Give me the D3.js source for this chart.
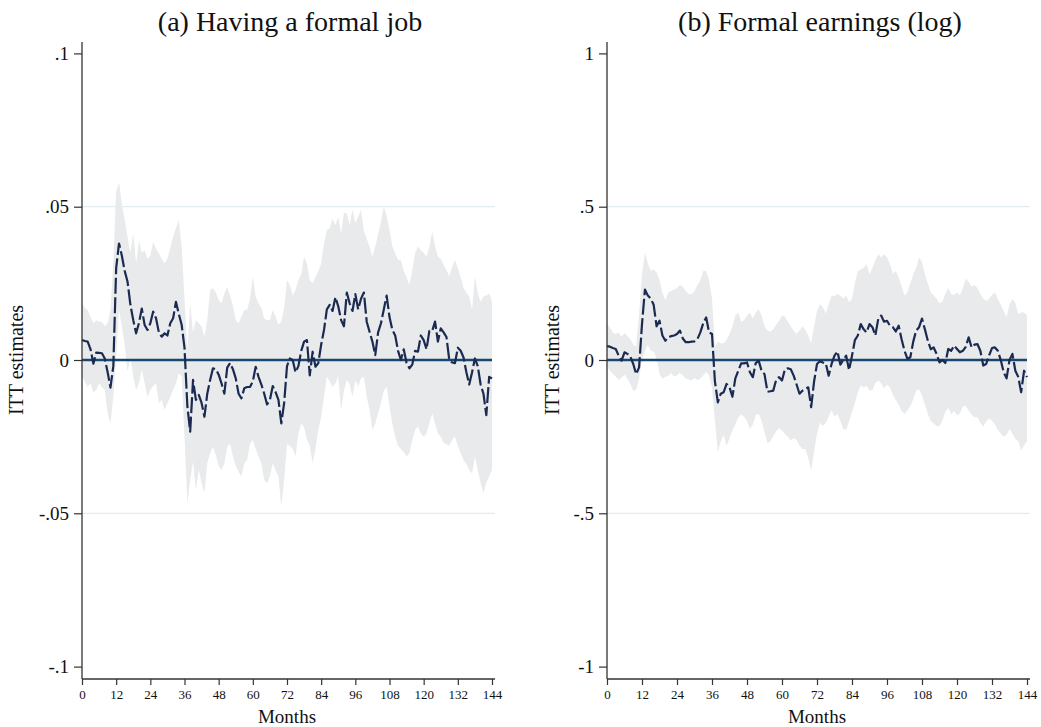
<!DOCTYPE html>
<html>
<head>
<meta charset="utf-8">
<script src="https://cdn.jsdelivr.net/npm/d3@7"></script>
<style>
  html, body { margin: 0; padding: 0; background: #fff; }
  svg { display: block; font-family: "Liberation Serif", "Times New Roman", serif; }
</style>
</head>
<body>
<svg id="chart" width="1041" height="727"></svg>
<script>
// Meses 0..144 (eje x)
const months = d3.range(0, 145);
const xTicks = [0, 12, 24, 36, 48, 60, 72, 84, 96, 108, 120, 132, 144];

// (a) Having a formal job
const jobTicks = [-0.1, -0.05, 0, 0.05, 0.1];
const jobTickLabels = ['-.1', '-.05', '0', '.05', '.1'];
const jobEst = [
  0.0065, 0.0062, 0.006, 0.0035, -0.0012, 0.0024, 0.0023, 0.0022, 0.0005, -0.004,
  -0.009, -0.002, 0.03, 0.038, 0.034, 0.029, 0.0255, 0.018, 0.013, 0.0087,
  0.012, 0.0168, 0.0114, 0.0098, 0.012, 0.0158, 0.0136, 0.009, 0.0076, 0.0087,
  0.008, 0.012, 0.0136, 0.019, 0.015, 0.0115, 0.004, -0.015, -0.0234, -0.0065,
  -0.013, -0.0114, -0.014, -0.0185, -0.011, -0.0065, -0.0027, -0.003, -0.0048, -0.0076,
  -0.011, -0.0025, -0.001, -0.003, -0.006, -0.011, -0.0125, -0.0092, -0.0088, -0.0088,
  -0.007, -0.0022, -0.0055, -0.008, -0.011, -0.0145, -0.013, -0.0085, -0.0105, -0.013,
  -0.0207, -0.014, -0.002, 0.0005, 0.0, -0.004, -0.002, 0.003, 0.006, 0.0065,
  -0.005, 0.0027, -0.0022, -0.001, 0.005, 0.0098, 0.0165, 0.018, 0.016, 0.0205,
  0.0175, 0.013, 0.011, 0.022, 0.0185, 0.016, 0.0215, 0.0165, 0.02, 0.022,
  0.0125, 0.0092, 0.006, 0.0016, 0.009, 0.012, 0.0165, 0.021, 0.014, 0.0098,
  0.008, 0.003, 0.0, 0.0035, -0.001, -0.0027, -0.0015, 0.003, 0.0027, 0.008,
  0.0065, 0.0035, 0.0095, 0.0095, 0.0125, 0.006, 0.0103, 0.009, 0.0075, 0.0,
  -0.0008, -0.001, 0.004, 0.003, 0.0008, -0.004, -0.008, -0.004, 0.0005, -0.002,
  -0.008, -0.011, -0.018, -0.0055, -0.006
];
const jobHi = [
  0.0185, 0.017, 0.0163, 0.014, 0.012, 0.013, 0.0125, 0.0125, 0.011, 0.012,
  0.0163, 0.032, 0.055, 0.058, 0.051, 0.0457, 0.04, 0.035, 0.0413, 0.0315,
  0.039, 0.035, 0.0359, 0.033, 0.034, 0.0386, 0.0364, 0.0348, 0.033, 0.0315,
  0.033, 0.0365, 0.0402, 0.043, 0.0457, 0.037, 0.02, 0.0033, 0.0185, 0.009,
  0.013, 0.012, 0.0109, 0.0076, 0.013, 0.0228, 0.0235, 0.022, 0.0195, 0.0185,
  0.0217, 0.0239, 0.021, 0.0175, 0.013, 0.012, 0.0141, 0.0163, 0.0163, 0.02,
  0.0272, 0.0207, 0.0185, 0.017, 0.0135, 0.013, 0.013, 0.0163, 0.0141, 0.0115,
  0.0125, 0.017, 0.026, 0.0245, 0.021, 0.0228, 0.026, 0.028, 0.0337, 0.0315,
  0.026, 0.025, 0.027, 0.029, 0.0315, 0.038, 0.0424, 0.043, 0.046, 0.044,
  0.0467, 0.0413, 0.048, 0.0478, 0.044, 0.049, 0.0446, 0.0467, 0.049, 0.042,
  0.0395, 0.037, 0.0337, 0.037, 0.041, 0.045, 0.05, 0.047, 0.0424, 0.037,
  0.0348, 0.0326, 0.0326, 0.029, 0.027, 0.0245, 0.0293, 0.0348, 0.037, 0.0359,
  0.035, 0.0337, 0.037, 0.0418, 0.037, 0.0337, 0.033, 0.031, 0.0293, 0.0272,
  0.0304, 0.0326, 0.03, 0.027, 0.0235, 0.022, 0.0207, 0.0163, 0.0272, 0.0217,
  0.019, 0.0207, 0.021, 0.0217, 0.019
];
const jobLo = [
  -0.0054, -0.007, -0.0087, -0.0075, -0.0105, -0.0098, -0.0076, -0.009, -0.0098, -0.0174,
  -0.0207, -0.012, 0.0011, 0.0163, 0.011, 0.005, -0.0038, 0.0011, -0.0054, -0.0098,
  -0.0076, -0.0033, -0.0076, -0.012, -0.0098, -0.0085, -0.0076, -0.0141, -0.013, -0.0163,
  -0.0141, -0.012, -0.0098, -0.0076, -0.0043, -0.0054, -0.025, -0.0467, -0.0391, -0.033,
  -0.0424, -0.0359, -0.04, -0.0435, -0.0337, -0.0304, -0.0283, -0.031, -0.0345, -0.0359,
  -0.0337, -0.0283, -0.0272, -0.0315, -0.0345, -0.0365, -0.038, -0.0337, -0.0326, -0.0272,
  -0.0261, -0.029, -0.0315, -0.0337, -0.0391, -0.0402, -0.038, -0.0337, -0.036, -0.038,
  -0.0478, -0.0391, -0.0275, -0.028, -0.029, -0.0315, -0.024, -0.0207, -0.022, -0.026,
  -0.028, -0.0337, -0.029, -0.0228, -0.0185, -0.012, -0.0054, -0.007, -0.0087, -0.0076,
  -0.0054, -0.0163, -0.01, -0.0065, -0.008, -0.012, -0.0065, -0.0087, -0.006, -0.0054,
  -0.012, -0.0163, -0.0228, -0.0207, -0.0174, -0.014, -0.01, -0.0087, -0.0152, -0.0207,
  -0.025, -0.028, -0.029, -0.03, -0.0315, -0.0304, -0.026, -0.0228, -0.0217, -0.024,
  -0.025, -0.024, -0.0207, -0.0174, -0.0207, -0.024, -0.025, -0.027, -0.0275, -0.028,
  -0.026, -0.025, -0.028, -0.0304, -0.0326, -0.034, -0.0359, -0.037, -0.0315, -0.0359,
  -0.04, -0.0435, -0.04, -0.038, -0.0359
];

// (b) Formal earnings (log)
const earnTicks = [-1, -0.5, 0, 0.5, 1];
const earnTickLabels = ['-1', '-.5', '0', '.5', '1'];
const earnEst = [
  0.045, 0.0435, 0.039, 0.036, 0.014, -0.002, 0.025, 0.02, 0.011, -0.013,
  -0.046, -0.024, 0.117, 0.23, 0.21, 0.2, 0.18, 0.11, 0.128, 0.08,
  0.063, 0.074, 0.078, 0.08, 0.085, 0.096, 0.07, 0.058, 0.058, 0.06,
  0.061, 0.068, 0.09, 0.12, 0.139, 0.09, 0.085, -0.07, -0.138, -0.11,
  -0.105, -0.078, -0.089, -0.12, -0.06, -0.035, -0.011, -0.011, -0.008, -0.04,
  -0.056, -0.01, -0.002, -0.035, -0.046, -0.103, -0.102, -0.1, -0.065, -0.056,
  -0.067, -0.03, -0.027, -0.03, -0.051, -0.08, -0.11, -0.1, -0.095, -0.089,
  -0.154, -0.07, -0.013, -0.004, -0.008, -0.011, -0.051, -0.013, 0.014, 0.028,
  -0.015, 0.0, 0.014, -0.033, 0.014, 0.065, 0.08, 0.117, 0.1, 0.09,
  0.117, 0.107, 0.08, 0.134, 0.145, 0.125, 0.128, 0.112, 0.107, 0.093,
  0.112, 0.068, 0.03, 0.004, 0.009, 0.06, 0.096, 0.107, 0.135, 0.1,
  0.063, 0.035, 0.041, 0.02, -0.008, 0.0, -0.01, 0.036, 0.03, 0.047,
  0.036, 0.025, 0.03, 0.043, 0.074, 0.041, 0.05, 0.052, 0.03, -0.018,
  -0.013, 0.015, 0.039, 0.041, 0.03, 0.0, -0.04, -0.06, 0.0, 0.02,
  -0.035, -0.055, -0.105, -0.035, -0.056
];
const earnHi = [
  0.12, 0.105, 0.09, 0.085, 0.09, 0.075, 0.088, 0.078, 0.068, 0.05,
  0.045, 0.15, 0.28, 0.35, 0.315, 0.29, 0.295, 0.285, 0.26, 0.22,
  0.195, 0.22, 0.225, 0.23, 0.235, 0.245, 0.24, 0.225, 0.215, 0.215,
  0.225, 0.245, 0.26, 0.29, 0.29, 0.26, 0.2, 0.045, 0.06, 0.055,
  0.055, 0.065, 0.085, 0.11, 0.145, 0.155, 0.125, 0.13, 0.145, 0.155,
  0.135, 0.155, 0.165, 0.145, 0.11, 0.096, 0.092, 0.1, 0.115, 0.128,
  0.145, 0.142, 0.125, 0.11, 0.095, 0.085, 0.096, 0.11, 0.098, 0.08,
  0.055, 0.11, 0.16, 0.183, 0.172, 0.152, 0.18, 0.21, 0.208, 0.215,
  0.21, 0.2, 0.21, 0.188, 0.2, 0.25, 0.29, 0.295, 0.3, 0.313,
  0.28, 0.3, 0.325, 0.345, 0.335, 0.345, 0.335, 0.313, 0.282, 0.29,
  0.27, 0.24, 0.21, 0.22, 0.25, 0.28, 0.3, 0.335, 0.32, 0.28,
  0.25, 0.22, 0.21, 0.2, 0.185, 0.19, 0.215, 0.235, 0.215, 0.212,
  0.22, 0.21, 0.235, 0.265, 0.255, 0.24, 0.245, 0.235, 0.215, 0.2,
  0.193, 0.2, 0.213, 0.22, 0.2, 0.18, 0.16, 0.14, 0.18, 0.2,
  0.185, 0.15, 0.155, 0.155, 0.145
];
const earnLo = [
  -0.02, -0.035, -0.045, -0.055, -0.065, -0.057, -0.048, -0.06, -0.078, -0.1,
  -0.098, -0.06, 0.0, 0.03, 0.05, 0.03, 0.028, 0.005, -0.045, -0.062,
  -0.055, -0.051, -0.042, -0.055, -0.05, -0.042, -0.05, -0.06, -0.064, -0.067,
  -0.058, -0.066, -0.06, -0.05, -0.038, -0.05, -0.09, -0.2, -0.3, -0.265,
  -0.245, -0.28, -0.255, -0.23, -0.21, -0.187, -0.178, -0.185, -0.198, -0.225,
  -0.21, -0.18, -0.175, -0.198, -0.235, -0.272, -0.265, -0.248, -0.232, -0.222,
  -0.23, -0.241, -0.25, -0.262, -0.255, -0.26, -0.28, -0.29, -0.29, -0.32,
  -0.36, -0.3, -0.24, -0.205, -0.215, -0.205, -0.185, -0.165, -0.185, -0.176,
  -0.2, -0.225, -0.228, -0.2, -0.17, -0.14, -0.105, -0.082, -0.09, -0.085,
  -0.1, -0.098, -0.075, -0.068, -0.076, -0.092, -0.08, -0.09, -0.115, -0.13,
  -0.145, -0.166, -0.176, -0.165, -0.15, -0.128, -0.1, -0.095, -0.115, -0.145,
  -0.175, -0.2, -0.206, -0.215, -0.216, -0.198, -0.17, -0.156, -0.176, -0.166,
  -0.18, -0.175, -0.15, -0.15, -0.165, -0.178, -0.187, -0.187, -0.205, -0.218,
  -0.2, -0.19, -0.198, -0.21, -0.228, -0.24, -0.25, -0.245, -0.225, -0.24,
  -0.258, -0.265, -0.295, -0.278, -0.265
];

const COLOR_BAND = '#e9eaeb';
const COLOR_EST = '#1b2a50';
const COLOR_ZERO = '#1a476f';
const COLOR_GRID = '#e3edf1';
const COLOR_AXIS = '#333';

const svg = d3.select('#chart');

const paneles = [
  {
    title: '(a) Having a formal job', titleX: 290, x0: 82, x1: 492, axisEnd: 495,
    labelX: 17, ticks: jobTicks, tickLabels: jobTickLabels, domain: [-0.1, 0.1],
    est: jobEst, lo: jobLo, hi: jobHi
  },
  {
    title: '(b) Formal earnings (log)', titleX: 820, x0: 607, x1: 1027, axisEnd: 1030,
    labelX: 553, ticks: earnTicks, tickLabels: earnTickLabels, domain: [-1, 1],
    est: earnEst, lo: earnLo, hi: earnHi
  }
];

function dibujarPanel(p) {
  const g = svg.append('g');
  const x = d3.scaleLinear().domain([0, 144]).range([p.x0, p.x1]);
  const y = d3.scaleLinear().domain(p.domain).range([666.6, 53.4]);
  const yTop = 42, yBottom = 679;

  // líneas de grilla en los ticks intermedios
  g.selectAll('line.grid')
    .data(p.ticks.filter((t, i) => i === 1 || i === 3))
    .enter().append('line')
    .attr('x1', p.x0).attr('x2', p.axisEnd)
    .attr('y1', (d) => y(d)).attr('y2', (d) => y(d))
    .attr('stroke', COLOR_GRID).attr('stroke-width', 1.2);

  // banda de confianza
  const area = d3.area()
    .x((d, i) => x(months[i]))
    .y0((d, i) => y(p.lo[i]))
    .y1((d, i) => y(p.hi[i]));
  g.append('path').datum(p.est).attr('d', area).attr('fill', COLOR_BAND);

  // línea de cero
  g.append('line')
    .attr('x1', p.x0).attr('x2', x(144))
    .attr('y1', y(0)).attr('y2', y(0))
    .attr('stroke', COLOR_ZERO).attr('stroke-width', 2.5);

  // estimaciones
  const linea = d3.line().x((d, i) => x(months[i])).y((d) => y(d));
  g.append('path').datum(p.est).attr('d', linea)
    .attr('fill', 'none').attr('stroke', COLOR_EST)
    .attr('stroke-width', 2.2).attr('stroke-linejoin', 'round')
    .attr('stroke-dasharray', '16,3.5');

  // eje y
  const ejeY = d3.axisLeft(y).tickValues(p.ticks)
    .tickFormat((d, i) => p.tickLabels[i]).tickSize(8).tickPadding(5);
  const gy = g.append('g').attr('transform', `translate(${p.x0},0)`).call(ejeY);
  gy.select('.domain').remove();
  gy.selectAll('line').attr('stroke', COLOR_AXIS).attr('stroke-width', 1.2);
  gy.selectAll('text').attr('font-size', 19).attr('fill', '#111')
    .style('font-family', '"Liberation Serif", serif');
  g.append('line').attr('x1', p.x0).attr('x2', p.x0).attr('y1', yTop).attr('y2', yBottom)
    .attr('stroke', COLOR_AXIS).attr('stroke-width', 1.3);

  // eje x
  const ejeX = d3.axisBottom(x).tickValues(xTicks).tickSize(6).tickPadding(5);
  const gx = g.append('g').attr('transform', `translate(0,${yBottom})`).call(ejeX);
  gx.select('.domain').remove();
  gx.selectAll('line').attr('stroke', COLOR_AXIS).attr('stroke-width', 1.2);
  gx.selectAll('text').attr('font-size', 13).attr('fill', '#111')
    .style('font-family', '"Liberation Serif", serif');
  g.append('line').attr('x1', p.x0).attr('x2', p.axisEnd).attr('y1', yBottom).attr('y2', yBottom)
    .attr('stroke', COLOR_AXIS).attr('stroke-width', 1.3);

  // textos
  g.append('text').attr('x', p.titleX).attr('y', 31).attr('text-anchor', 'middle')
    .attr('font-size', 28).attr('fill', '#111').text(p.title);
  g.append('text').attr('x', (p.x0 + p.x1) / 2).attr('y', 723).attr('text-anchor', 'middle')
    .attr('font-size', 19).attr('fill', '#111').text('Months');
  g.append('text')
    .attr('transform', `translate(${p.labelX + 6},360) rotate(-90)`)
    .attr('text-anchor', 'middle').attr('font-size', 20).attr('fill', '#111')
    .text('ITT estimates');
}

paneles.forEach(dibujarPanel);
</script>
</body>
</html>
